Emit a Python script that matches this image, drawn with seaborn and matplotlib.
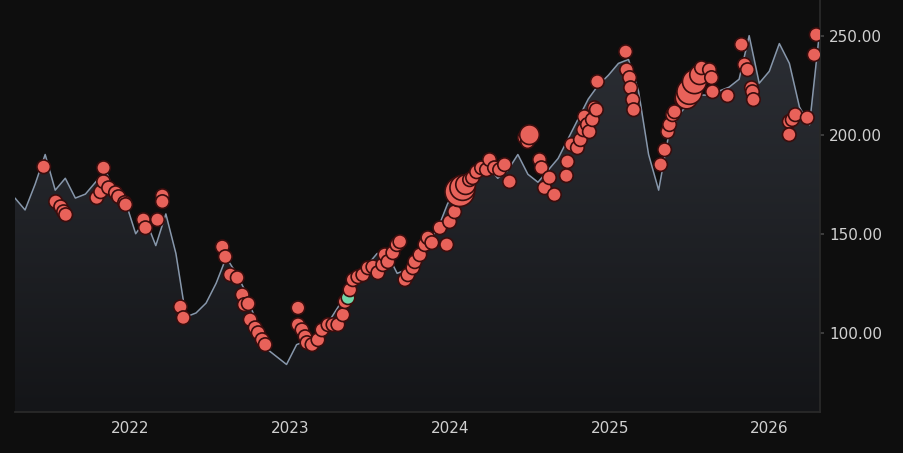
import numpy as np
import pandas as pd
import matplotlib.pyplot as plt
import matplotlib.dates as mdates
import seaborn as sns

# price line, sampled every 23 days from 2021-04-12
price_start = "2021-04-12"
price = [168, 162, 175, 190, 172, 178, 168, 170, 176, 182, 170, 166, 150, 157, 144, 160,
         140, 108, 110, 115, 125, 138, 130, 120, 105, 92, 88, 84, 94, 96, 98, 104,
         112, 120, 128, 134, 140, 140, 130, 132, 138, 146, 152, 165, 174, 178, 184, 184,
         178, 182, 190, 180, 176, 182, 188, 198, 208, 218, 225, 230, 236, 238, 222, 190,
         172, 200, 210, 216, 220, 220, 222, 224, 228, 250, 226, 232, 246, 236, 214, 205, 252]

# signal points: decimal year, value, bubble size, kind
sig_year = [2021.456, 2021.531, 2021.563, 2021.581, 2021.594, 2021.788, 2021.813, 2021.831, 2021.831,
            2021.863, 2021.906, 2021.925, 2021.963, 2021.969, 2022.081, 2022.094, 2022.169, 2022.200,
            2022.200, 2022.313, 2022.331, 2022.575, 2022.594, 2022.625, 2022.669, 2022.700, 2022.713,
            2022.738, 2022.750, 2022.781, 2022.800, 2022.825, 2022.844, 2023.050, 2023.050, 2023.075,
            2023.094, 2023.106, 2023.138, 2023.175, 2023.200, 2023.238, 2023.269, 2023.300, 2023.331,
            2023.344, 2023.363, 2023.375, 2023.394, 2023.425, 2023.456, 2023.488, 2023.519, 2023.550,
            2023.581, 2023.594, 2023.613, 2023.644, 2023.669, 2023.688, 2023.719, 2023.738, 2023.769,
            2023.781, 2023.813, 2023.844, 2023.863, 2023.888, 2023.938, 2023.981, 2024.000, 2024.031,
            2024.050, 2024.063, 2024.081, 2024.100, 2024.125, 2024.144, 2024.169, 2024.200, 2024.231,
            2024.250, 2024.281, 2024.313, 2024.344, 2024.375, 2024.469, 2024.488, 2024.500, 2024.563,
            2024.575, 2024.594, 2024.625, 2024.656, 2024.731, 2024.738, 2024.763, 2024.800, 2024.819,
            2024.838, 2024.844, 2024.863, 2024.875, 2024.894, 2024.906, 2024.919, 2024.925, 2025.100,
            2025.106, 2025.125, 2025.131, 2025.144, 2025.150, 2025.319, 2025.344, 2025.363, 2025.375,
            2025.394, 2025.406, 2025.450, 2025.481, 2025.500, 2025.531, 2025.563, 2025.575, 2025.625,
            2025.638, 2025.644, 2025.738, 2025.825, 2025.844, 2025.863, 2025.888, 2025.894, 2025.900,
            2026.125, 2026.125, 2026.144, 2026.163, 2026.238, 2026.281, 2026.294]
sig_value = [183.8, 166.2, 163.6, 161.1, 159.6, 168.2, 171.2, 176.3, 183.3, 173.2, 170.7, 168.7, 165.7,
             164.7, 157.1, 153.0, 157.1, 169.2, 166.2, 113.1, 107.6, 143.4, 138.4, 129.3, 127.8, 119.2,
             114.2, 114.7, 106.6, 102.5, 100.0, 96.5, 94.0, 112.6, 104.1, 101.5, 98.0, 95.0, 94.0, 96.5,
             101.5, 104.1, 104.1, 104.1, 109.1, 115.7, 117.7, 121.7, 126.8, 128.3, 129.3, 132.8, 133.3,
             130.3, 134.4, 139.4, 135.9, 140.4, 144.5, 146.0, 126.8, 129.3, 132.8, 135.9, 139.4, 144.5,
             148.0, 145.5, 153.0, 144.5, 156.1, 161.1, 167.2, 171.2, 173.2, 174.8, 177.3, 178.3, 181.3,
             183.3, 182.3, 187.4, 183.3, 182.3, 184.9, 176.3, 198.5, 196.5, 200.0, 187.4, 183.3, 173.2,
             178.3, 169.7, 179.3, 186.4, 195.0, 193.4, 197.5, 202.5, 209.1, 205.1, 201.5, 207.6, 213.6,
             212.6, 226.8, 241.9, 232.8, 228.8, 223.7, 217.7, 212.6, 184.9, 192.4, 201.5, 205.1, 210.1,
             211.6, 217.7, 218.7, 221.7, 226.8, 230.3, 233.8, 232.8, 228.8, 221.7, 219.7, 245.5, 235.4,
             232.8, 223.7, 221.7, 217.7, 206.6, 200.0, 207.6, 210.1, 208.6, 240.4, 250.5]
big_years = {2024.063: 450, 2024.081: 330, 2024.100: 200, 2024.500: 200,
             2025.481: 260, 2025.500: 330, 2025.531: 300, 2025.563: 200}
green_years = [2023.363]


def to_date(y):
    yr = int(y)
    start = pd.Timestamp(year=yr, month=1, day=1)
    return start + pd.Timedelta(days=(y - yr) * 365.25)


line_df = pd.DataFrame({"date": pd.date_range(price_start, periods=len(price), freq="23D"),
                        "price": price})
sig_df = pd.DataFrame({"date": [to_date(y) for y in sig_year], "value": sig_value,
                       "size": [big_years.get(y, 95) for y in sig_year],
                       "kind": ["buy" if y in green_years else "sell" for y in sig_year]})

bg = "#0e0e0e"
sns.set_theme(style="dark")
fig = plt.figure(figsize=(9.04, 4.53), dpi=100, facecolor=bg)
ax = fig.add_axes([15 / 904, 41 / 453, 805 / 904, 412 / 453])
ax.set_facecolor(bg)

ymin, ymax = 60, 268
x0, x1 = mdates.date2num(pd.Timestamp("2021-04-12")), mdates.date2num(pd.Timestamp("2026-04-27"))

# gradient area under the price
grad = np.linspace(0, 1, 256).reshape(-1, 1)
cmap = sns.blend_palette(["#141518", "#2c2f35"], as_cmap=True)
img = ax.imshow(grad, extent=[x0, x1, ymin, 255], origin="lower", aspect="auto", cmap=cmap, zorder=1)
poly = ax.fill_between(line_df["date"], price, ymin, color="none")
img.set_clip_path(poly.get_paths()[0], transform=ax.transData)

sns.lineplot(data=line_df, x="date", y="price", color="#8797ab", linewidth=1.1, ax=ax, zorder=2)
sns.scatterplot(data=sig_df, x="date", y="value", hue="kind", size="size", sizes=(95, 450),
                palette={"sell": "#e8625a", "buy": "#6fd6a8"}, edgecolor="#3a0d0d", linewidth=1.2,
                legend=False, ax=ax, zorder=3)

ax.set_xlim(x0, x1)
ax.set_ylim(ymin, ymax)
ax.yaxis.tick_right()
ax.set_yticks([100, 150, 200, 250])
ax.yaxis.set_major_formatter(plt.FuncFormatter(lambda v, p: f"{v:.2f}"))
ax.xaxis.set_major_locator(mdates.YearLocator())
ax.xaxis.set_major_formatter(mdates.DateFormatter("%Y"))
ax.tick_params(colors="#d0d0d0", labelsize=11, length=3, color="#444")
ax.set_xlabel("")
ax.set_ylabel("")
ax.grid(False)
for s in ["top", "left"]:
    ax.spines[s].set_visible(False)
for s in ["bottom", "right"]:
    ax.spines[s].set_color("#2a2a2a")
    ax.spines[s].set_visible(True)

fig.savefig("out.png", dpi=100, facecolor=bg)
